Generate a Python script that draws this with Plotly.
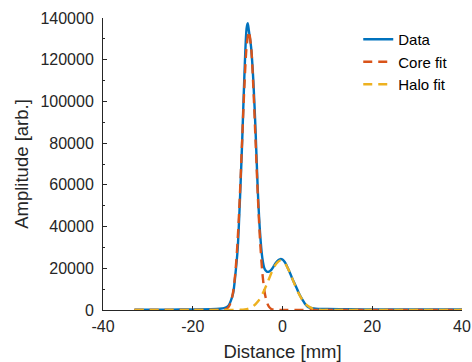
import plotly.graph_objects as go

# ---- Data ----
data_x = [-33, -25, -20, -16, -14, -13, -12.5, -12, -11.5, -11, -10.5, -10, -9.5, -9, -8.5,
          -8, -7.75, -7.5, -7, -6.5, -6, -5.5, -5, -4.5, -4, -3.5, -3, -2.5, -2, -1.5,
          -1, -0.5, 0, 0.5, 1, 1.5, 2, 2.5, 3, 3.5, 4, 4.5, 5, 5.5, 6, 7, 8, 10, 15, 20, 30, 40]
data_y = [200, 200, 300, 400, 600, 900, 1300, 2200, 4500, 8000, 17000, 29000, 52000, 80000, 112000,
          135000, 137500, 134000, 126000, 110000, 86000, 57000, 37000, 25000, 19800, 18400, 18400, 19200, 20800, 22500,
          23800, 24400, 24200, 23000, 21000, 18600, 16000, 13500, 11300, 8800, 6600, 4700, 3000, 1800, 1100, 700, 550, 450, 350, 300, 250, 250]

core_x = [-33, -20, -14, -13.5, -13, -12.5, -12, -11.5, -11, -10.5, -10, -9.5, -9, -8.5, -8,
          -7.5, -7, -6.5, -6, -5.5, -5, -4.5, -4, -3.5, -3, -2.5, -2, -1.5, -1, 0, 10, 20, 40]
core_y = [0, 0, 0, 45, 161, 515, 1480, 3810, 8770, 18070, 33300, 54880, 80970, 106890, 126290,
          133500, 126290, 106890, 80970, 54880, 33300, 18070, 8770, 3810, 1480, 515, 161, 45, 1, 0, 0, 0, 0]

halo_x = [-33, -20, -12.4, -10.4, -9.4, -8.4, -7.4, -6.4, -5.4, -4.4, -3.4, -2.4, -1.4, -0.4,
          0.6, 1.6, 2.6, 3.6, 4.6, 5.6, 6.6, 7.6, 9.6, 12, 20, 40]
halo_y = [0, 0, 1, 25, 92, 295, 826, 2020, 4280, 7950, 12840, 18090, 22220, 23800,
          22220, 18090, 12840, 7950, 4280, 2020, 826, 295, 25, 1, 0, 0]

x_ticks = [-40, -20, 0, 20, 40]
y_ticks = [0, 20000, 40000, 60000, 80000, 100000, 120000, 140000]

BLUE = "#0072BD"
ORANGE = "#D95319"
YELLOW = "#EDB120"
AX = "#262626"
FONT = "Liberation Sans, Arial, sans-serif"

fig = go.Figure()
fig.add_trace(go.Scatter(x=data_x, y=data_y, mode="lines", name="Data",
                         line=dict(color=BLUE, width=2.4, shape="spline", smoothing=0.8)))
fig.add_trace(go.Scatter(x=core_x, y=core_y, mode="lines", name="Core fit",
                         line=dict(color=ORANGE, width=2.4, dash="9px,6px", shape="spline", smoothing=0.8)))
fig.add_trace(go.Scatter(x=halo_x, y=halo_y, mode="lines", name="Halo fit",
                         line=dict(color=YELLOW, width=2.4, dash="9px,6px", shape="spline", smoothing=0.8)))

fig.update_layout(
    width=472, height=362,
    margin=dict(l=103, r=10, t=18, b=52),
    paper_bgcolor="white", plot_bgcolor="white",
    font=dict(family=FONT, color=AX, size=16),
    showlegend=True,
    legend=dict(x=0.711, y=0.983, xanchor="left", yanchor="top",
                bgcolor="rgba(0,0,0,0)", borderwidth=0,
                font=dict(size=15, color="black", family=FONT),
                tracegroupgap=0),
)
fig.update_xaxes(
    range=[-40, 40], tickvals=x_ticks, ticktext=[str(v) for v in x_ticks],
    showline=True, linecolor=AX, linewidth=1, mirror=False, automargin=False,
    ticks="inside", ticklen=4, tickcolor=AX, showgrid=False, zeroline=False,
    tickfont=dict(size=16, color=AX), ticklabelstandoff=2,
    title=dict(text="Distance [mm]", font=dict(size=18.5, color=AX), standoff=10),
)
fig.update_yaxes(
    range=[0, 140000], tickvals=y_ticks, ticktext=[str(v) for v in y_ticks],
    showline=True, linecolor=AX, linewidth=1, mirror=False, automargin=False,
    ticks="inside", ticklen=4, tickcolor=AX, showgrid=False, zeroline=False,
    minor=dict(ticks="inside", ticklen=2, tickcolor=AX, dtick=10000, showgrid=False),
    tickfont=dict(size=16, color=AX), ticklabelstandoff=5,
    title=dict(text="Amplitude [arb.]", font=dict(size=18.5, color=AX), standoff=6),
)

fig.write_html("out.html",
               config={"displayModeBar": False},
               post_script="document.body.style.margin='0';document.body.style.overflow='hidden';")
